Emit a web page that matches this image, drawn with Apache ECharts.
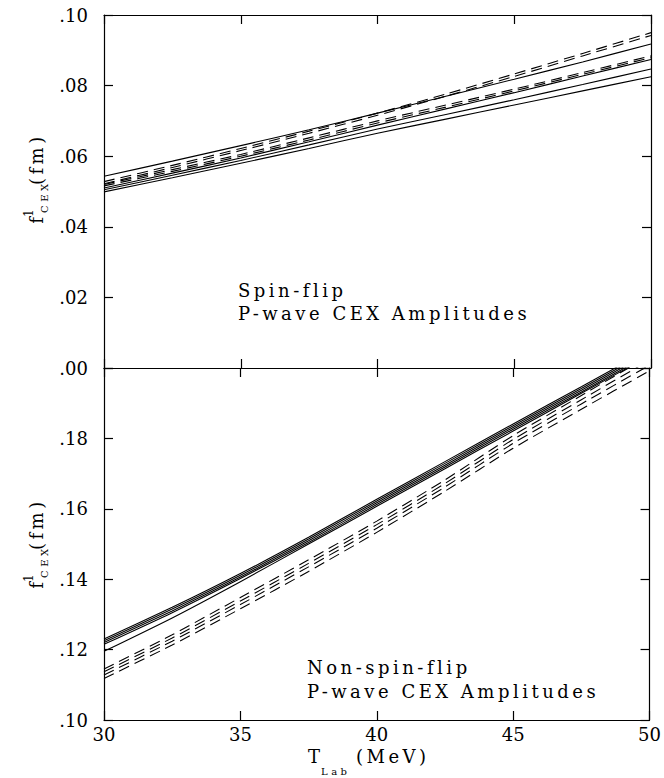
<!DOCTYPE html>
<html><head><meta charset="utf-8">
<script src="https://cdn.jsdelivr.net/npm/echarts@6/dist/echarts.min.js"></script>
<style>
html,body{margin:0;padding:0;background:#fff;}
#c{width:664px;height:778px;}
text[style*="spaced"], text[font-family*="spaced"]{letter-spacing:3.5px;}
</style></head><body><div id="c"></div>
<script>
// ---------- data ----------
const tLab = [30, 32.5, 35, 37.5, 40, 42.5, 45, 47.5, 50];

const xTickValues = [30, 35, 40, 45, 50];
const xTickLabels = ['30', '35', '40', '45', '50'];
const yTopTickValues = [0, 0.02, 0.04, 0.06, 0.08, 0.10];
const yTopTickLabels = ['.00', '.02', '.04', '.06', '.08', '.10'];
const yBotTickValues = [0.10, 0.12, 0.14, 0.16, 0.18, 0.20];
const yBotTickLabels = ['.10', '.12', '.14', '.16', '.18', ''];

// Spin-flip (top panel)
const spinSolidA = [.0543, .0586, .0630, .0675, .0722, .0770, .0818, .0867, .0918];
const spinSolidB = [.0510, .0552, .0595, .0641, .0688, .0734, .0780, .0827, .0874];
const spinSolidC = [.0505, .0546, .0588, .0632, .0677, .0718, .0760, .0803, .0847];
const spinSolidE = [.0499, .0539, .0580, .0622, .0665, .0705, .0745, .0785, .0825];
const spinDash1  = [.0528, .0574, .0622, .0671, .0722, .0776, .0833, .0891, .0950];
const spinDash2  = [.0522, .0568, .0616, .0665, .0716, .0770, .0826, .0884, .0942];
const spinDash3  = [.0520, .0562, .0605, .0652, .0700, .0745, .0790, .0837, .0884];
const spinDash4  = [.0516, .0557, .0600, .0646, .0694, .0739, .0785, .0832, .0879];

// Non-spin-flip (bottom panel)
const nonSolid1 = [.1230, .1320, .1416, .1519, .1627, .1734, .1841, .1947, .2054];
const nonSolid2 = [.1225, .1315, .1411, .1514, .1622, .1729, .1836, .1942, .2049];
const nonSolid3 = [.1220, .1310, .1406, .1509, .1617, .1724, .1831, .1937, .2044];
const nonSolid4 = [.1215, .1305, .1402, .1504, .1612, .1719, .1826, .1932, .2039];
const nonSolid5 = [.1195, .1290, .1393, .1500, .1607, .1714, .1821, .1928, .2035];
const nonDash1  = [.1145, .1242, .1348, .1455, .1565, .1682, .1808, .1922, .2035];
const nonDash2  = [.1137, .1233, .1338, .1445, .1555, .1672, .1797, .1910, .2022];
const nonDash3  = [.1128, .1224, .1328, .1435, .1545, .1662, .1786, .1898, .2008];
const nonDash4  = [.1118, .1213, .1316, .1422, .1533, .1650, .1772, .1883, .1992];

const topSolid = [spinSolidA, spinSolidB, spinSolidC, spinSolidE];
const topDash = [spinDash1, spinDash2, spinDash3, spinDash4];
const botSolid = [nonSolid1, nonSolid2, nonSolid3, nonSolid4, nonSolid5];
const botDash = [nonDash1, nonDash2, nonDash3, nonDash4];

const yNameText = '{b|f}{sup|1}{sub|CEX}{b| (fm)}';
const noteTop = 'Spin-flip\nP-wave CEX Amplitudes';
const noteBot = 'Non-spin-flip\nP-wave CEX Amplitudes';

// ---------- styling ----------
const FONT = 'DejaVu Serif';
const SP = 'DejaVu Serif, spaced';
const INK = '#000';

function lookup(vals, labels) {
  return function (v) {
    for (let i = 0; i < vals.length; i++) if (Math.abs(v - vals[i]) < 1e-9) return labels[i];
    return '';
  };
}
function xAxisDef(grid, pos, showLabel) {
  return {
    gridIndex: grid, type: 'value', min: 30, max: 50, interval: 5, position: pos,
    axisLine: { show: true, onZero: false, lineStyle: { color: INK, width: 1.2 } },
    axisTick: { show: true, inside: true, length: 9, lineStyle: { color: INK, width: 1.2 } },
    axisLabel: { show: showLabel, margin: 5, color: INK, fontFamily: FONT, fontSize: 18,
      formatter: lookup(xTickValues, xTickLabels) },
    splitLine: { show: false }
  };
}
function yAxisDef(grid, pos, min, max, vals, labels, showLabel) {
  return {
    gridIndex: grid, type: 'value', min: min, max: max, interval: 0.02, position: pos,
    axisLine: { show: true, onZero: false, lineStyle: { color: INK, width: 1.2 } },
    axisTick: { show: true, inside: true, length: 9, lineStyle: { color: INK, width: 1.2 } },
    axisLabel: { show: showLabel, margin: 16, color: INK, fontFamily: FONT, fontSize: 18,
      formatter: lookup(vals, labels) },
    splitLine: { show: false }
  };
}
function lineSeries(arr, xIdx, yIdx, dashed) {
  return {
    type: 'line', xAxisIndex: xIdx, yAxisIndex: yIdx, silent: true,
    symbol: 'none', smooth: 0.2, clip: true, animation: false,
    data: tLab.map((t, i) => [t, arr[i]]),
    lineStyle: { color: INK, width: 1.1, type: dashed ? [11, 6] : 'solid' }
  };
}

const series = [];
topSolid.forEach(a => series.push(lineSeries(a, 0, 0, false)));
topDash.forEach(a => series.push(lineSeries(a, 0, 0, true)));
botSolid.forEach(a => series.push(lineSeries(a, 3, 2, false)));
botDash.forEach(a => series.push(lineSeries(a, 3, 2, true)));

const yRich = {
  b: { fontFamily: SP, fontSize: 18, color: INK, lineHeight: 26 },
  sup: { fontFamily: SP, fontSize: 12, color: INK, verticalAlign: 'top', lineHeight: 12 },
  sub: { fontFamily: SP, fontSize: 10, color: INK, verticalAlign: 'bottom', lineHeight: 10 }
};

const option = {
  backgroundColor: '#fff',
  animation: false,
  grid: [
    { left: 104, right: 13, top: 15, height: 353 },
    { left: 104, right: 13, top: 368, height: 352 }
  ],
  xAxis: [
    xAxisDef(0, 'bottom', false),
    xAxisDef(0, 'top', false),
    xAxisDef(1, 'top', false),
    xAxisDef(1, 'bottom', true)
  ],
  yAxis: [
    yAxisDef(0, 'left', 0, 0.1, yTopTickValues, yTopTickLabels, true),
    yAxisDef(0, 'right', 0, 0.1, yTopTickValues, yTopTickLabels, false),
    yAxisDef(1, 'left', 0.1, 0.2, yBotTickValues, yBotTickLabels, true),
    yAxisDef(1, 'right', 0.1, 0.2, yBotTickValues, yBotTickLabels, false)
  ],
  series: series,
  graphic: [
    { type: 'text', x: 36, y: 182, rotation: Math.PI / 2, silent: true,
      style: { text: yNameText, rich: yRich, align: 'center', verticalAlign: 'middle', fill: INK } },
    { type: 'text', x: 36, y: 547, rotation: Math.PI / 2, silent: true,
      style: { text: yNameText, rich: yRich, align: 'center', verticalAlign: 'middle', fill: INK } },
    { type: 'text', x: 308, y: 756, silent: true,
      style: { text: 'T', fontFamily: SP, fontSize: 18, fill: INK, align: 'left', verticalAlign: 'middle' } },
    { type: 'text', x: 321, y: 771, silent: true,
      style: { text: 'Lab', fontFamily: SP, fontSize: 10, fill: INK, align: 'left', verticalAlign: 'middle' } },
    { type: 'text', x: 356, y: 756, silent: true,
      style: { text: '(MeV)', fontFamily: SP, fontSize: 18, fill: INK, align: 'left', verticalAlign: 'middle' } },
    { type: 'text', x: 238, y: 278.5, silent: true,
      style: { text: noteTop, fontFamily: SP, fontSize: 18, lineHeight: 23, fill: INK, align: 'left', verticalAlign: 'top' } },
    { type: 'text', x: 307, y: 655.5, silent: true,
      style: { text: noteBot, fontFamily: SP, fontSize: 18, lineHeight: 24, fill: INK, align: 'left', verticalAlign: 'top' } }
  ]
};

const chart = echarts.init(document.getElementById('c'), null, { renderer: 'svg' });
chart.setOption(option);
</script>
</body></html>
